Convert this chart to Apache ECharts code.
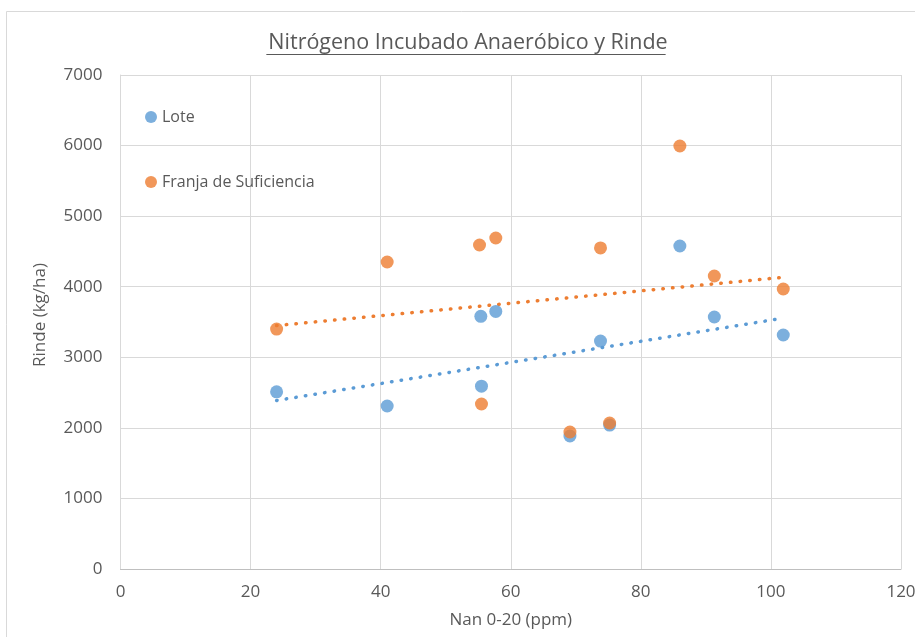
<!DOCTYPE html>
<html>
<head>
<meta charset="utf-8">
<script src="https://cdn.jsdelivr.net/npm/echarts@6/dist/echarts.min.js"></script>
<style>
html,body{margin:0;padding:0;background:#fff;}
#chart{width:915px;height:637px;}
</style>
</head>
<body>
<div id="chart"></div>
<script>
// Data
const nanX = [24, 41, 55.4, 57.7, 55.5, 69.1, 75.2, 73.8, 86, 91.3, 101.9];
const loteY = [2510, 2310, 3580, 3650, 2590, 1885, 2040, 3230, 4577, 3571, 3316];
const franjaX = [24, 41, 55.2, 57.7, 55.5, 69.1, 75.2, 73.8, 86, 91.3, 101.9];
const franjaY = [3400, 4350, 4591, 4690, 2338, 1941, 2069, 4549, 5994, 4152, 3968];
const xTicks = [0, 20, 40, 60, 80, 100, 120];
const yTicks = [0, 1000, 2000, 3000, 4000, 5000, 6000, 7000];
const titleText = 'Nitrógeno Incubado Anaeróbico y Rinde';
const seriesNames = ['Lote', 'Franja de Suficiencia'];

const FONT = "'Open Sans', sans-serif";
const TXT = '#595959';
const BLUE = '#5B9BD5';
const ORANGE = '#ED7D31';

function pairs(xs, ys){ return xs.map((x,i)=>[x, ys[i]]); }
function trend(xs, ys){
  const n = xs.length;
  const mx = xs.reduce((a,b)=>a+b,0)/n;
  const my = ys.reduce((a,b)=>a+b,0)/n;
  let sxy=0, sxx=0;
  for(let i=0;i<n;i++){ sxy += (xs[i]-mx)*(ys[i]-my); sxx += (xs[i]-mx)*(xs[i]-mx); }
  const b = sxy/sxx, a = my - b*mx;
  const x0 = Math.min(...xs), x1 = Math.max(...xs);
  return [[x0, a+b*x0],[x1, a+b*x1]];
}

const chart = echarts.init(document.getElementById('chart'), null, {renderer:'canvas'});

// measure title width for underline
const cv = document.createElement('canvas').getContext('2d');
const titleSize = 21.5;
cv.font = titleSize + "px " + FONT;
const tw = cv.measureText(titleText).width;
const ucx = 466;

const option = {
  backgroundColor: '#fff',
  animation: false,
  textStyle: {fontFamily: FONT},
  title: {
    text: titleText,
    left: 463, top: 27, textAlign: 'center',
    textStyle: {fontFamily: FONT, fontSize: titleSize, fontWeight: 'normal', color: TXT}
  },
  graphic: [
    {type:'rect', shape:{x:6.5, y:11.5, width:920, height:640}, style:{fill:'none', stroke:'#d9d9d9', lineWidth:1}, silent:true, z:-1},
    {type:'line', shape:{x1:ucx - tw/2, y1:54.5, x2:ucx + tw/2, y2:54.5}, style:{stroke:TXT, lineWidth:1}, silent:true}
  ],
  legend: {
    orient: 'vertical',
    left: 140, top: 104,
    itemGap: 49,
    itemWidth: 12, itemHeight: 12,
    icon: 'circle',
    data: seriesNames,
    textStyle: {fontFamily: FONT, fontSize: 16, color: TXT, padding:[0,0,0,0]}
  },
  grid: {left: 120.5, right: 14, top: 75, bottom: 68, containLabel: false, outerBoundsMode: 'none'},
  xAxis: {
    type: 'value', min: xTicks[0], max: xTicks[xTicks.length-1], interval: 20,
    name: 'Nan 0-20 (ppm)', nameLocation: 'middle', nameGap: 43,
    nameTextStyle: {fontFamily: FONT, fontSize: 17, color: TXT},
    axisLine: {show: true, onZero:false, lineStyle: {color: '#bfbfbf', width: 1}},
    axisTick: {show: false},
    axisLabel: {fontFamily: FONT, fontSize: 17, color: TXT, margin: 15},
    splitLine: {show: true, lineStyle: {color: '#d9d9d9', width: 1}}
  },
  yAxis: {
    type: 'value', min: yTicks[0], max: yTicks[yTicks.length-1], interval: 1000,
    name: 'Rinde (kg/ha)', nameLocation: 'middle', nameGap: 72, nameRotate: 90,
    nameTextStyle: {fontFamily: FONT, fontSize: 17, color: TXT, padding:[0,0,0,14]},
    axisLine: {show: true, lineStyle: {color: '#d9d9d9', width: 1}},
    axisTick: {show: false},
    axisLabel: {fontFamily: FONT, fontSize: 17, color: TXT, margin: 18, formatter: v => String(v)},
    splitLine: {show: true, lineStyle: {color: '#d9d9d9', width: 1}}
  },
  series: [
    {
      name: seriesNames[0], type: 'scatter', data: pairs(nanX, loteY),
      symbol: 'circle', symbolSize: 13, itemStyle: {color: BLUE}, z: 3
    },
    {
      name: seriesNames[1], type: 'scatter', data: pairs(franjaX, franjaY),
      symbol: 'circle', symbolSize: 13, itemStyle: {color: ORANGE}, z: 4
    },
    {
      name: 'trendLote', type: 'line', data: trend(nanX, loteY), symbol: 'none',
      lineStyle: {color: BLUE, width: 3.5, type: [0.5, 9.2], cap: 'round'}, z: 2, silent: true
    },
    {
      name: 'trendFranja', type: 'line', data: trend(franjaX, franjaY), symbol: 'none',
      lineStyle: {color: ORANGE, width: 3.5, type: [0.5, 9.2], cap: 'round'}, z: 2, silent: true
    }
  ]
};
chart.setOption(option);
</script>
</body>
</html>
